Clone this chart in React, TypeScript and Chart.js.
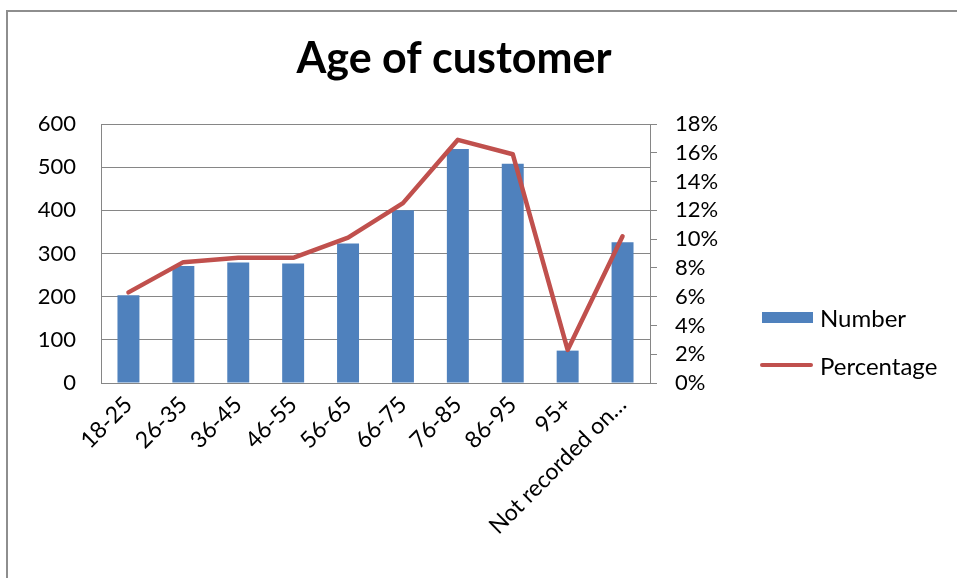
import React, { useEffect, useRef } from "react";
import { Chart, registerables } from "chart.js";

Chart.register(...registerables);

const chartTitle = "Age of customer";
const categories = [
  "18-25",
  "26-35",
  "36-45",
  "46-55",
  "56-65",
  "66-75",
  "76-85",
  "86-95",
  "95+",
  "Not recorded on…",
];
const numberValues = [203, 271, 279, 277, 323, 400, 542, 508, 75, 326];
const percentageValues = [6.3, 8.4, 8.7, 8.7, 10.1, 12.5, 16.9, 15.9, 2.3, 10.2];
const seriesNames = ["Number", "Percentage"];

const BAR_COLOR = "#4F81BD";
const LINE_COLOR = "#C0504D";
const GRID_COLOR = "#868686";
const FONT = "Lato, 'Open Sans', sans-serif";

export default function App() {
  const canvasRef = useRef<HTMLCanvasElement | null>(null);

  useEffect(() => {
    if (!canvasRef.current) return;
    const chart = new Chart(canvasRef.current, {
      type: "bar",
      data: {
        labels: categories,
        datasets: [
          {
            type: "line",
            label: seriesNames[1],
            data: percentageValues,
            yAxisID: "y1",
            borderColor: LINE_COLOR,
            backgroundColor: LINE_COLOR,
            borderWidth: 4.5,
            pointRadius: 0,
            tension: 0,
            borderJoinStyle: "round",
            borderCapStyle: "round",
            order: 0,
          } as any,
          {
            type: "bar",
            label: seriesNames[0],
            data: numberValues,
            yAxisID: "y",
            backgroundColor: BAR_COLOR,
            barPercentage: 0.4,
            categoryPercentage: 1.0,
            order: 1,
          },
        ],
      },
      options: {
        responsive: false,
        animation: false,
        devicePixelRatio: 1,
        layout: { padding: { left: 0, right: 49, top: 0, bottom: 0 } },
        plugins: {
          legend: { display: false },
          tooltip: { enabled: false },
          title: {
            display: true,
            text: chartTitle,
            color: "#000",
            font: { family: FONT, size: 43, weight: "bold", lineHeight: 1 },
            padding: { top: 38, bottom: 43 },
          },
        },
        scales: {
          x: {
            offset: true,
            grid: { display: false, drawTicks: false },
            border: { display: true, color: GRID_COLOR, width: 1 },
            ticks: {
              autoSkip: false,
              minRotation: 45,
              maxRotation: 45,
              padding: 8,
              color: "#000",
              font: { family: FONT, size: 23 },
            },
            afterFit: (s: any) => {
              s.height = 195;
            },
          },
          y: {
            position: "left",
            min: 0,
            max: 600,
            ticks: {
              stepSize: 100,
              autoSkip: false,
              padding: 25,
              color: "#000",
              font: { family: FONT, size: 22 },
            },
            grid: { color: GRID_COLOR, drawTicks: false, lineWidth: 1 },
            border: { display: true, color: GRID_COLOR, width: 1 },
            afterFit: (s: any) => {
              s.width = 101;
            },
          },
          y1: {
            position: "right",
            min: 0,
            max: 18,
            ticks: {
              stepSize: 2,
              autoSkip: false,
              padding: 18,
              color: "#000",
              font: { family: FONT, size: 22 },
              callback: (v: any) => `${v}%`,
            },
            grid: {
              drawOnChartArea: false,
              drawTicks: true,
              tickLength: 7,
              color: GRID_COLOR,
            },
            border: { display: true, color: GRID_COLOR, width: 1 },
            afterFit: (s: any) => {
              s.width = 258;
            },
          },
        },
      },
    });
    return () => chart.destroy();
  }, []);

  return (
    <div
      style={{
        position: "absolute",
        left: 0,
        top: 0,
        width: 957,
        height: 578,
        overflow: "hidden",
        background: "#fff",
      }}
    >
      <div
        style={{
          position: "absolute",
          left: 6,
          top: 10,
          width: 1200,
          height: 1200,
          border: "2px solid #8E8E8E",
        }}
      />
      <canvas
        ref={canvasRef}
        width={957}
        height={578}
        style={{ position: "absolute", left: 0, top: 0, width: 957, height: 578 }}
      />
      <div
        style={{
          position: "absolute",
          left: 762,
          top: 301,
          fontFamily: FONT,
          fontSize: 24,
          color: "#000",
        }}
      >
        <div style={{ display: "flex", alignItems: "center", height: 32 }}>
          <span style={{ display: "inline-block", width: 51, height: 11, background: BAR_COLOR }} />
          <span style={{ marginLeft: 7 }}>{seriesNames[0]}</span>
        </div>
        <div style={{ display: "flex", alignItems: "center", height: 32, marginTop: 16, marginLeft: -2 }}>
          <span style={{ display: "inline-block", width: 53, height: 4, borderRadius: 2, background: LINE_COLOR }} />
          <span style={{ marginLeft: 7 }}>{seriesNames[1]}</span>
        </div>
      </div>
    </div>
  );
}
